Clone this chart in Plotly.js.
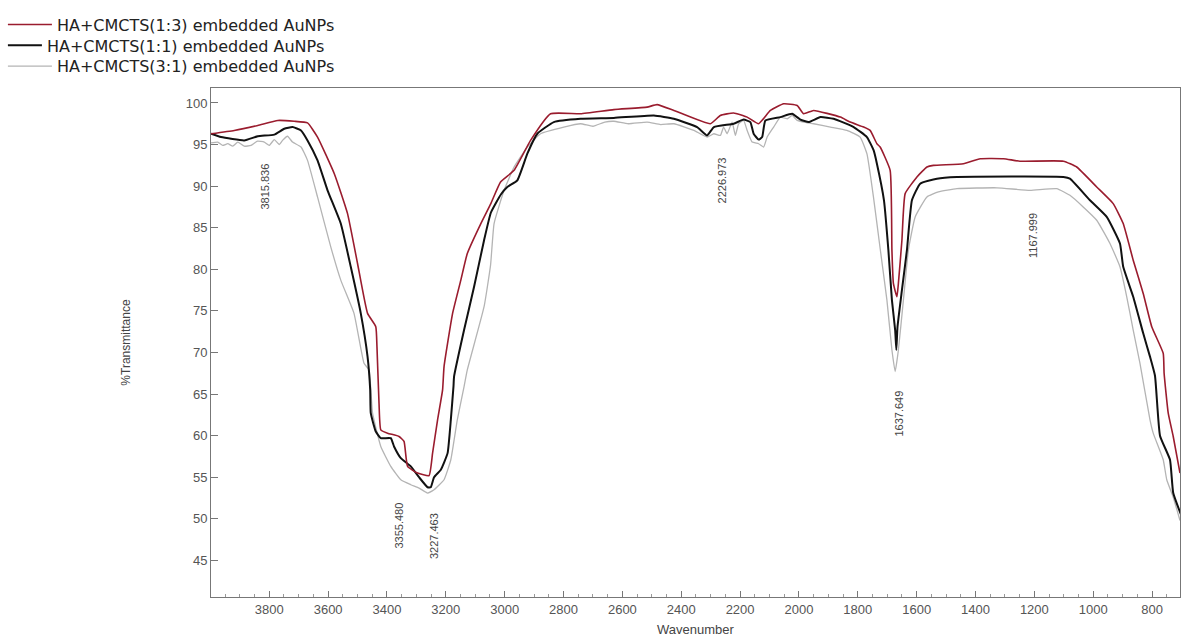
<!DOCTYPE html>
<html>
<head>
<meta charset="utf-8">
<script src="https://cdn.plot.ly/plotly-3.0.1.min.js"></script>
<style>html,body{margin:0;padding:0;background:#fff;}#chart{width:1184px;height:637px;}</style>
</head>
<body>
<div id="chart"></div>
<script>
// Series names
const seriesNames = ['HA+CMCTS(1:3) embedded AuNPs', 'HA+CMCTS(1:1) embedded AuNPs', 'HA+CMCTS(3:1) embedded AuNPs'];

// HA+CMCTS(1:3) - red
const wnRed = [3998,3919,3839,3771,3715,3670,3636,3579,3534,3500,3466,3438,3434,3427,3421,3398,3359,3342,3330,3296,3257,3245,3228,3211,3206,3177,3149,3127,3081,3047,3014,2968,2912,2844,2742,2629,2516,2482,2425,2301,2267,2222,2176,2137,2097,2052,2006,1984,1950,1859,1826,1780,1758,1735,1724,1690,1684,1679,1667,1662,1650,1639,1599,1565,1543,1441,1384,1305,1249,1101,1056,988,932,898,864,830,801,762,759,745,728,705];
const tRed = [96.3,96.7,97.3,97.9,97.8,97.6,95.9,91.5,86.7,80.7,74.7,73.1,70.7,63.9,60.7,60.3,59.9,59.3,56.3,55.5,55.2,57.9,61.9,65.5,68.3,74.7,78.7,81.9,85.5,87.9,90.5,91.9,95.5,98.7,98.7,99.2,99.5,99.8,99.1,97.5,98.5,98.8,98.3,97.5,99.1,99.9,99.7,98.7,99.1,98.3,97.7,97.1,96.7,95.1,94.7,91.9,82.3,78.3,76.7,78.3,83.5,89.1,91.1,92.3,92.5,92.7,93.3,93.3,93.0,93.0,92.3,89.9,87.9,85.5,81.1,77.1,73.1,69.9,67.5,62.7,59.9,55.5];

// HA+CMCTS(1:1) - black
const wnBlack = [3998,3964,3885,3839,3783,3749,3721,3692,3670,3636,3602,3557,3523,3489,3466,3457,3455,3438,3421,3387,3376,3353,3319,3291,3262,3251,3240,3217,3194,3183,3174,3172,3138,3104,3070,3047,3013,2991,2957,2923,2889,2833,2742,2629,2493,2425,2346,2312,2289,2222,2188,2165,2154,2137,2125,2114,2063,2023,1995,1967,1927,1882,1814,1769,1746,1735,1711,1696,1684,1673,1669,1665,1650,1633,1616,1588,1531,1463,1101,1079,1011,954,909,898,864,830,807,790,773,739,728,694];
const tBlack = [96.3,95.9,95.5,96.0,96.2,96.9,97.1,96.7,95.5,93.1,89.5,85.5,80.3,74.7,69.5,65.5,62.7,60.5,59.7,59.7,58.7,57.3,56.3,55.0,53.8,53.8,55.0,55.9,57.9,61.9,65.9,67.1,72.7,77.9,83.5,86.8,89.0,89.9,90.7,93.9,96.3,97.7,98.1,98.2,98.5,98.1,97.1,96.1,97.1,97.5,98.0,97.7,96.3,95.6,95.9,97.9,98.3,98.7,98.0,97.7,98.3,98.1,97.1,95.9,94.3,92.7,88.3,82.3,76.3,72.7,70.3,73.1,77.5,82.3,88.3,90.3,90.9,91.1,91.1,90.9,88.3,86.3,83.1,80.3,76.7,72.3,69.5,67.2,60.0,57.1,53.1,49.8];

// HA+CMCTS(3:1) - grey
const wnGrey = [3998,3975,3958,3941,3924,3907,3885,3862,3840,3817,3800,3783,3766,3755,3738,3721,3692,3670,3636,3591,3557,3512,3478,3461,3449,3421,3387,3353,3319,3291,3262,3240,3206,3183,3161,3138,3127,3070,3048,3036,3002,2968,2923,2878,2799,2742,2700,2660,2629,2580,2516,2470,2425,2357,2312,2289,2267,2256,2244,2227,2216,2205,2188,2176,2159,2137,2120,2108,2086,2063,2040,2023,2006,1984,1950,1893,1837,1792,1769,1746,1724,1701,1684,1673,1662,1645,1628,1605,1565,1526,1463,1327,1215,1124,1079,1034,988,943,909,886,864,841,807,796,762,750,728,705];
const tGrey = [95.2,95.3,94.9,95.1,94.8,95.3,94.8,94.9,95.4,95.3,94.9,95.6,95.0,95.5,96.0,95.3,94.7,93.1,88.7,82.7,78.7,74.7,68.7,67.9,62.7,58.7,56.3,54.7,54.1,53.7,53.1,53.5,54.7,57.1,61.9,65.9,67.9,75.5,80.5,85.5,89.5,92.3,94.7,96.3,97.1,97.5,97.2,97.7,97.8,97.5,97.7,97.4,97.5,96.7,95.9,96.3,96.1,97.1,96.3,97.7,96.1,97.5,97.9,96.7,95.3,95.1,94.7,95.9,97.1,98.3,98.1,98.5,97.9,97.7,97.5,97.1,96.7,95.9,93.9,88.5,82.5,76.3,70.3,67.7,70.3,76.3,82.3,86.3,88.7,89.3,89.7,89.8,89.5,89.7,88.9,87.5,85.9,83.1,80.3,76.7,72.7,68.7,61.9,60.3,57.1,54.7,52.6,49.8];

// Peak labels
const peakLabels = ['3815.836','3355.480','3227.463','2226.973','1637.649','1167.999'];
const peakLabelY = [89.9, 49.2, 47.9, 90.7, 62.6, 84.1];
const peakLabelShift = [0, -1, -3, -10, -7, -11];

const colors = ['#9a1c2e', '#111111', '#b4b4b4'];
const widths = [1.6, 2.0, 1.3];
const xs = [wnRed, wnBlack, wnGrey];
const ys = [tRed, tBlack, tGrey];
const legendIds = ['legend', 'legend2', 'legend3'];

const traces = seriesNames.map((n, i) => ({
  x: xs[i], y: ys[i], type: 'scatter', mode: 'lines', name: n,
  legend: legendIds[i],
  line: {color: colors[i], width: widths[i], shape: 'spline', smoothing: 0.4}
}));
const data = [traces[2], traces[1], traces[0]];

const annotations = peakLabels.map((t, i) => ({
  x: parseFloat(t), y: peakLabelY[i], xref: 'x', yref: 'y', text: t,
  showarrow: false, textangle: -90, xshift: peakLabelShift[i],
  font: {family: 'Liberation Sans, Arial, sans-serif', size: 11, color: '#444'}
}));

const axisFont = {family: 'Liberation Sans, Arial, sans-serif', size: 13, color: '#555'};
const legFont = {family: 'DejaVu Sans, sans-serif', size: 16, color: '#222'};
function leg(x, y, w) {
  return {x: x, y: y, xanchor: 'left', yanchor: 'top', font: legFont,
          itemwidth: w, bgcolor: 'rgba(0,0,0,0)', borderwidth: 0};
}

const layout = {
  width: 1184, height: 637,
  margin: {l: 210, r: 4, t: 88, b: 40},
  paper_bgcolor: '#ffffff', plot_bgcolor: '#ffffff',
  showlegend: true,
  legend: leg(-0.2135, 1.158, 44),
  legend2: leg(-0.2135, 1.117, 34),
  legend3: leg(-0.2135, 1.076, 44),
  xaxis: {
    range: [3998, 705], autorange: false,
    tickmode: 'linear', tick0: 0, dtick: 200,
    ticks: 'inside', ticklen: 6, tickcolor: '#777', tickwidth: 1,
    minor: {dtick: 50, ticks: 'inside', ticklen: 3, tickcolor: '#999'},
    showgrid: false, zeroline: false,
    showline: true, linecolor: '#777', linewidth: 1, mirror: true,
    tickfont: axisFont,
    title: {text: 'Wavenumber', font: {family: 'Liberation Sans, Arial, sans-serif', size: 13, color: '#444'}, standoff: 10}
  },
  yaxis: {
    range: [40.6, 101.8], autorange: false,
    tickmode: 'array', tickvals: [45,50,55,60,65,70,75,80,85,90,95,100],
    ticks: 'inside', ticklen: 7, tickcolor: '#777', tickwidth: 1,
    showgrid: false, zeroline: false,
    showline: true, linecolor: '#777', linewidth: 1, mirror: true,
    tickfont: axisFont,
    title: {text: '%Transmittance', font: {family: 'Liberation Sans, Arial, sans-serif', size: 12, color: '#444'}, standoff: 52}
  },
  annotations: annotations
};

Plotly.newPlot('chart', data, layout, {displayModeBar: false, staticPlot: true});
</script>
</body>
</html>
